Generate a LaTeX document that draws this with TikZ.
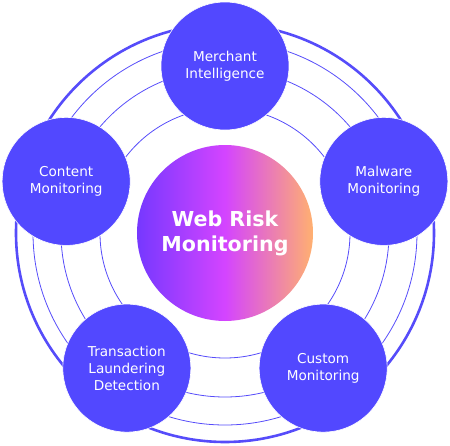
\documentclass[tikz,border=0pt]{standalone}
\usepackage{fontspec}
\setmainfont{DejaVu Sans}
\definecolor{satblue}{RGB}{82,72,255}
\definecolor{ringblue}{RGB}{86,76,250}
\definecolor{webleft}{RGB}{118,56,255}
\definecolor{webmid}{RGB}{212,68,255}
\definecolor{webright}{RGB}{255,176,112}
\begin{document}
\begin{tikzpicture}[x=1pt, y=1pt,
    sat/.style={circle, fill=satblue, draw=white, line width=0.6pt,
      minimum size=128pt, inner sep=0pt, text=white, align=center,
      font=\fontsize{13.6}{17}\selectfont},
    hub/.style={circle, minimum size=176pt, inner sep=0pt, text=white,
      align=center, left color=webleft, right color=webright,
      middle color=webmid, font=\bfseries\fontsize{20.6}{25}\selectfont},
    thinring/.style={draw=ringblue, line width=0.8pt},
    thickring/.style={draw=ringblue, line width=2.6pt}]
    \useasboundingbox (-225, -212) rectangle (225, 233) ;
    % rings behind the circles
    \draw[thinring] (0, 0) circle (125) ;
    \draw[thinring] (0, 0) circle (164) ;
    \draw[thinring] (0, 0) circle (192) ;
    \draw[thickring] (0, 0) circle (209) ;
    % centre
    \node[hub] (web) at (0, 0) {Web Risk\\Monitoring} ;
    % satellites
    \node[sat] (merchant) at (90:167) {Merchant\\Intelligence} ;
    \node[sat] (malware) at (18:167) {Malware\\Monitoring} ;
    \node[sat] (custom) at (-54:167) {Custom\\Monitoring} ;
    \node[sat] (laundering) at (-126:167) {Transaction\\Laundering\\Detection} ;
    \node[sat] (content) at (162:167) {Content\\Monitoring} ;
  \end{tikzpicture}
\end{document}
